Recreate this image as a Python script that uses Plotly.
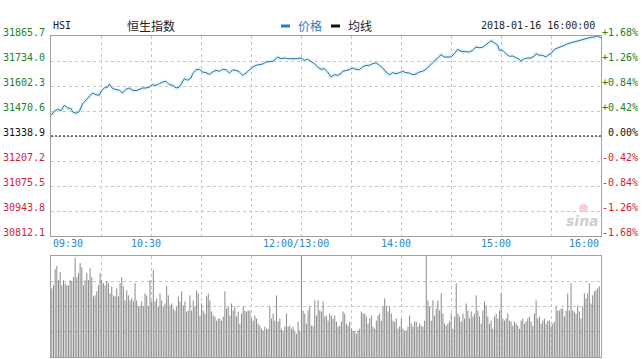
import plotly.graph_objects as go

W, H = 643, 359

# ---------------- data ----------------
prev_close = 31338.9
y_ticks = [31865.7, 31734.0, 31602.3, 31470.6, 31338.9, 31207.2, 31075.5, 30943.8, 30812.1]
pct_ticks = ["+1.68%", "+1.26%", "+0.84%", "+0.42%", "0.00%", "-0.42%", "-0.84%", "-1.26%", "-1.68%"]
time_ticks = ["09:30", "10:30", "12:00/13:00", "14:00", "15:00", "16:00"]

price_times = [
    "09:30", "09:32", "09:34", "09:36", "09:38", "09:40", "09:42", "09:43", "09:45", "09:47",
    "09:49", "09:51", "09:53", "09:55", "09:57", "09:59", "10:00", "10:02", "10:04", "10:05",
    "10:07", "10:09", "10:11", "10:13", "10:15", "10:17", "10:19", "10:21", "10:23", "10:25",
    "10:27", "10:29", "10:31", "10:33", "10:35", "10:37", "10:39", "10:41", "10:43", "10:45",
    "10:47", "10:49", "10:50", "10:52", "10:54", "10:55", "10:57", "10:59", "11:01", "11:03",
    "11:05", "11:07", "11:09", "11:11", "11:13", "11:15", "11:17", "11:19", "11:21", "11:23",
    "11:25", "11:27", "11:29", "11:31", "11:33", "11:35", "11:37", "11:39", "11:41", "11:43",
    "11:45", "11:46", "11:48", "11:50", "11:52", "11:54", "11:56", "11:58", "12:00",
    "13:02", "13:04", "13:06", "13:08", "13:10", "13:12", "13:14", "13:16", "13:18", "13:20",
    "13:22", "13:24", "13:25", "13:27", "13:29", "13:31", "13:33", "13:35", "13:37", "13:39",
    "13:41", "13:43", "13:45", "13:47", "13:49", "13:51", "13:53", "13:55", "13:57", "13:59",
    "14:01", "14:03", "14:05", "14:07", "14:09", "14:11", "14:13", "14:15", "14:17", "14:19",
    "14:21", "14:23", "14:24", "14:26", "14:28", "14:30", "14:32", "14:34", "14:36", "14:39",
    "14:41", "14:43", "14:45", "14:47", "14:49", "14:51", "14:53", "14:54", "14:56", "14:58",
    "14:59", "15:01", "15:03", "15:05", "15:07", "15:09", "15:11", "15:12", "15:14", "15:16",
    "15:18", "15:20", "15:21", "15:23", "15:25", "15:27", "15:28", "15:30", "15:32", "15:34",
    "15:36", "15:38", "15:40", "15:42", "15:44", "15:46", "15:48", "15:50", "15:52", "15:54",
    "15:56", "15:58", "16:00",
]
price_values = [
    31447.9, 31469.0, 31479.6, 31472.2, 31500.6, 31486.4, 31482.7, 31465.3, 31458.5, 31469.0,
    31509.1, 31527.0, 31544.4, 31565.4, 31556.5, 31553.3, 31574.4, 31591.8, 31597.0, 31611.3,
    31588.1, 31584.9, 31579.6, 31565.4, 31584.9, 31591.8, 31579.6, 31577.5, 31584.9, 31591.8,
    31591.8, 31597.0, 31609.1, 31606.0, 31614.4, 31623.4, 31627.1, 31609.1, 31606.0, 31591.8,
    31597.0, 31623.4, 31640.8, 31632.3, 31644.4, 31667.1, 31688.2, 31690.3, 31676.1, 31672.4,
    31663.9, 31676.1, 31685.0, 31679.7, 31690.3, 31688.2, 31670.8, 31686.6, 31685.0, 31676.1,
    31658.7, 31670.8, 31685.0, 31702.4, 31711.3, 31716.6, 31718.2, 31728.7, 31732.4, 31732.4,
    31746.1, 31755.1, 31746.1, 31749.8, 31746.1, 31746.1, 31743.0, 31746.1, 31749.8,
    31737.7, 31743.0, 31732.4, 31719.8, 31702.4, 31690.3, 31693.4, 31676.1, 31649.7, 31661.8,
    31658.7, 31667.1, 31679.7, 31682.9, 31688.2, 31697.1, 31690.3, 31688.2, 31702.4, 31711.3,
    31711.3, 31719.8, 31725.0, 31711.3, 31697.1, 31676.1, 31661.8, 31672.4, 31667.1, 31672.4,
    31679.7, 31672.4, 31670.8, 31661.8, 31665.5, 31676.1, 31679.7, 31690.3, 31707.7, 31725.0,
    31737.7, 31755.1, 31767.2, 31755.1, 31753.5, 31755.1, 31772.5, 31795.6, 31785.1, 31781.4,
    31781.4, 31790.4, 31807.8, 31804.1, 31806.2, 31819.9, 31834.1, 31840.9, 31830.4, 31816.7,
    31790.4, 31790.4, 31772.5, 31758.8, 31760.3, 31749.8, 31743.0, 31732.4, 31746.1, 31749.8,
    31749.8, 31760.3, 31772.5, 31764.0, 31764.0, 31755.1, 31764.0, 31772.5, 31795.6, 31802.5,
    31807.8, 31816.7, 31825.1, 31830.4, 31834.1, 31837.8, 31843.0, 31848.3, 31855.2, 31858.8,
    31860.4, 31865.7, 31855.2,
]

# volume per minute (relative units, 100 = panel top), one bar per minute from 09:30
volume_am = [
    68, 71, 87, 90, 76, 84, 71, 76, 73, 71, 71, 76, 75, 79, 98, 79, 83, 93, 89, 71,
    76, 83, 76, 88, 79, 60, 61, 65, 71, 83, 76, 73, 71, 75, 73, 63, 70, 61, 60, 68,
    60, 73, 79, 70, 56, 66, 61, 56, 58, 55, 73, 56, 50, 51, 55, 50, 63, 61, 50, 76,
    55, 86, 55, 58, 50, 63, 56, 50, 53, 70, 61, 51, 53, 48, 46, 50, 60, 55, 65, 51,
    55, 45, 46, 61, 46, 56, 50, 66, 63, 41, 53, 46, 43, 60, 63, 56, 45, 41, 40, 36,
    38, 38, 36, 40, 65, 48, 50, 41, 53, 46, 50, 40, 45, 33, 43, 50, 46, 45, 46, 46,
    38, 36, 41, 38, 33, 31, 28, 26, 30, 28, 28, 50, 38, 43, 36, 61, 35, 38, 28, 26,
    30, 43, 30, 31, 28, 30, 26, 23, 35, 26,
]
volume_pm = [
    100, 46, 43, 33, 46, 50, 31, 31, 56, 41, 56,
    46, 45, 55, 40, 41, 36, 43, 41, 38, 41, 35, 30, 31, 35, 45, 43, 33, 31, 35, 28,
    26, 26, 23, 26, 28, 45, 43, 43, 40, 33, 38, 41, 30, 28, 36, 41, 43, 36, 50, 58,
    51, 45, 50, 43, 36, 35, 38, 28, 30, 38, 28, 26, 26, 30, 41, 33, 30, 35, 35, 30,
    33, 31, 30, 36,
    100, 56, 50, 36, 56, 41, 48, 56, 46, 63, 43, 33, 31, 33, 35, 43, 28, 40, 73, 43,
    40, 35, 43, 38, 53, 46, 38, 45, 40, 43, 61, 46, 40, 33, 46, 55, 51, 40, 33, 36,
    28, 40, 43, 38, 46, 63, 38, 36, 38, 43, 36, 35, 31, 35, 33, 31, 28, 36, 38, 33,
    35, 38, 40, 35, 31, 43, 56, 38, 40, 33, 36, 38, 33, 36, 36, 31, 33, 35, 50, 46,
    46, 48, 48, 40, 46, 63, 46, 73, 46, 45, 43, 51, 45, 38, 50, 63, 58, 63, 73, 53,
    61, 65, 66, 68, 70,
]
volume = volume_am + volume_pm


def to_idx(t):
    h, m = map(int, t.split("/")[0].split(":"))
    mins = h * 60 + m
    if mins <= 12 * 60:
        return mins - (9 * 60 + 30)
    return 150 + mins - 13 * 60


# ---------------- geometry helpers ----------------
def px(x):
    return x / W


def py(y):
    return 1 - y / H


MONO = "DejaVu Sans Mono"
CJK = "Noto Sans CJK SC"
GREEN = "#1d7f26"
RED = "#cc1f36"
BLUE = "#2a7ac0"
GRID = "#c6c6c6"
BORDER = "#a0a0a0"

price_x = [to_idx(t) for t in price_times]
tick_x = [to_idx(t) for t in time_ticks]
vgrid = list(range(30, 330, 30))

# volume drawn as thin vertical sticks (one per minute)
stick_x, stick_y = [], []
for i, v in enumerate(volume):
    stick_x += [i, i, None]
    stick_y += [0, v, None]

fig = go.Figure()

# glow under price line
fig.add_trace(go.Scatter(x=price_x, y=price_values, mode="lines",
                         line=dict(color="rgba(175,230,248,0.35)", width=4),
                         hoverinfo="skip", showlegend=False, xaxis="x", yaxis="y"))
fig.add_trace(go.Scatter(x=price_x, y=price_values, mode="lines",
                         line=dict(color="#2f7091", width=1),
                         showlegend=False, xaxis="x", yaxis="y"))
fig.add_trace(go.Scatter(x=stick_x, y=stick_y, mode="lines",
                         line=dict(color="#8a8a8a", width=1),
                         showlegend=False, xaxis="x2", yaxis="y2"))

axis_common = dict(showline=True, mirror=True, linecolor=BORDER, linewidth=1,
                   zeroline=False, ticks="", showticklabels=False,
                   showgrid=True, gridcolor=GRID, griddash="dot", gridwidth=1)

fig.update_layout(
    width=W, height=H,
    margin=dict(l=0, r=0, t=0, b=0),
    paper_bgcolor="white", plot_bgcolor="white",
    xaxis=dict(domain=[px(51), px(601)], range=[0, 330], tickvals=vgrid,
               anchor="y", **axis_common),
    yaxis=dict(domain=[py(236), py(36)], range=[y_ticks[-1], y_ticks[0]],
               tickvals=y_ticks, anchor="x", **axis_common),
    xaxis2=dict(domain=[px(51), px(601)], range=[-0.5, 330], tickvals=vgrid,
                anchor="y2", **axis_common),
    yaxis2=dict(domain=[py(357), py(256)], range=[0, 100], tickvals=[25, 50, 75],
                anchor="x2", **axis_common),
)

shapes = [
    # previous close dashed line
    dict(type="line", xref="x", yref="y", x0=0, x1=330, y0=prev_close, y1=prev_close,
         line=dict(color="black", width=1, dash="2px,2px")),
    # legend markers
    dict(type="rect", xref="paper", yref="paper", x0=px(281), x1=px(290),
         y0=py(27.5), y1=py(24.5), fillcolor=BLUE, line=dict(width=0)),
    dict(type="rect", xref="paper", yref="paper", x0=px(331), x1=px(340),
         y0=py(27.5), y1=py(24.5), fillcolor="#111111", line=dict(width=0)),
    # sina eye
    dict(type="circle", xref="paper", yref="paper", x0=px(579), x1=px(588),
         y0=py(212), y1=py(204), fillcolor="rgba(235,150,150,0.45)", line=dict(width=0)),
]

ann = []
for v, p in zip(y_ticks, pct_ticks):
    if v > prev_close + 1e-6:
        c = GREEN
    elif v < prev_close - 1e-6:
        c = RED
    else:
        c = "#111111"
    ann.append(dict(x=px(47), xref="paper", y=v, yref="y", text=f"{v:.1f}",
                    xanchor="right", yanchor="middle", yshift=4, showarrow=False,
                    font=dict(family=MONO, size=10, color=c)))
    ann.append(dict(x=px(640), xref="paper", y=v, yref="y", text=p,
                    xanchor="right", yanchor="middle", yshift=4, showarrow=False,
                    font=dict(family=MONO, size=10, color=c)))

for i, (t, xv) in enumerate(zip(time_ticks, tick_x)):
    if i == 0:
        xa, sh = "left", 0
    elif i == len(time_ticks) - 1:
        xa, sh = "right", 0
    else:
        xa, sh = "center", -5.5
    ann.append(dict(x=xv, xref="x", y=py(243), yref="paper", text=t, xanchor=xa,
                    yanchor="middle", xshift=sh, showarrow=False,
                    font=dict(family=MONO, size=10, color="#2d86c2")))

ann += [
    dict(x=px(51), xref="paper", y=py(25), yref="paper", text="HSI", xanchor="left",
         yanchor="middle", showarrow=False, font=dict(family=MONO, size=10, color="#222222")),
    dict(x=px(150.5), xref="paper", y=py(25), yref="paper", text="恒生指数", xanchor="center",
         yanchor="middle", showarrow=False, font=dict(family=CJK, size=12, color="#222222")),
    dict(x=px(296), xref="paper", y=py(25.5), yref="paper", text="价格", xanchor="left",
         yanchor="middle", showarrow=False, font=dict(family=CJK, size=12, color=BLUE)),
    dict(x=px(346), xref="paper", y=py(25.5), yref="paper", text="均线", xanchor="left",
         yanchor="middle", showarrow=False, font=dict(family=CJK, size=12, color="#222222")),
    dict(x=px(597), xref="paper", y=py(25), yref="paper", text="2018-01-16 16:00:00",
         xanchor="right", yanchor="middle", showarrow=False,
         font=dict(family=MONO, size=10, color="#222222")),
    dict(x=px(582), xref="paper", y=py(221), yref="paper", text="<b><i>sina</i></b>",
         xanchor="center", yanchor="middle", showarrow=False,
         font=dict(family="DejaVu Sans", size=14, color="#cfcfcf")),
]

fig.update_layout(shapes=shapes, annotations=ann)
fig.write_html("out.html")
